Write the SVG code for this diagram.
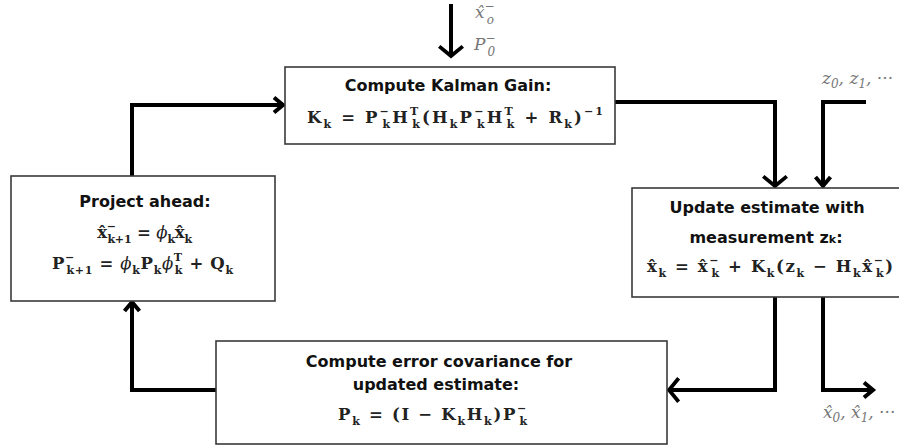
<svg xmlns="http://www.w3.org/2000/svg" width="899" height="446" viewBox="0 0 899 446">
  <defs>
    <style>
      .box { fill: #ffffff; stroke: #3a3a3a; stroke-width: 1.6; }
      .wire { fill: none; stroke: #000; stroke-width: 4; stroke-linejoin: miter; }
      .head { font-family: "DejaVu Sans", "Liberation Sans", sans-serif; font-weight: bold; font-size: 16px; fill: #111; text-anchor: middle; }
      .m { font-family: "DejaVu Serif", "Liberation Serif", serif; font-weight: bold; font-size: 16.5px; fill: #222; }
      .u, .d { font-size: 11px; }
      .g { font-family: "DejaVu Serif", "Liberation Serif", serif; font-style: italic; font-size: 17px; fill: #777; }
      .gs { font-size: 12px; }
      .phi { font-weight: normal; font-style: italic; }
    </style>
    <marker id="arrow" markerUnits="userSpaceOnUse" markerWidth="24" markerHeight="24" refX="0" refY="0" viewBox="-14 -12 16 24" orient="auto" overflow="visible">
      <path d="M-9,-7.5 L0,0 L-9,7.5" fill="none" stroke="#000" stroke-width="4" stroke-linejoin="miter"/>
    </marker>
    <marker id="arrowWide" markerUnits="userSpaceOnUse" markerWidth="30" markerHeight="30" refX="0" refY="0" viewBox="-14 -14 16 28" orient="auto" overflow="visible">
      <path d="M-9,-11 L0,0 L-9,11" fill="none" stroke="#000" stroke-width="3.5" stroke-linejoin="miter"/>
    </marker>
  </defs>

  <rect width="899" height="446" fill="#ffffff"/>

  <!-- connectors -->
  <g id="connectors">
    <path class="wire" d="M451,4 V56" stroke-width="3.5" marker-end="url(#arrowWide)"/>
    <path class="wire" d="M132,177 V105 H283" marker-end="url(#arrow)"/>
    <path class="wire" d="M615,102 H775 V186" marker-end="url(#arrowWide)"/>
    <path class="wire" d="M866,102 H823 V186" marker-end="url(#arrow)"/>
    <path class="wire" d="M775,297 V390 H669" marker-end="url(#arrowWide)"/>
    <path class="wire" d="M823,297 V390 H873" marker-end="url(#arrow)"/>
    <path class="wire" d="M216,390 H132 V302" marker-end="url(#arrow)"/>
  </g>

  <!-- initial state -->
  <g id="init-label">
    <text class="g" x="475" y="18">x&#x0302;<tspan class="gs" dy="-8.5">−</tspan><tspan class="gs" dx="-8" dy="14">o</tspan></text>
    <text class="g" x="474" y="50">P<tspan class="gs" dy="-8.5">−</tspan><tspan class="gs" dx="-8" dy="14">0</tspan></text>
  </g>

  <!-- measurements -->
  <g id="meas-label">
    <text class="g" x="822" y="84">z<tspan class="gs" dy="4">0</tspan><tspan dy="-4">, z</tspan><tspan class="gs" dy="4">1</tspan><tspan dy="-4">, ···</tspan></text>
  </g>

  <!-- estimates out -->
  <g id="out-label">
    <text class="g" x="823" y="418">x&#x0302;<tspan class="gs" dy="4">0</tspan><tspan dy="-4">, x&#x0302;</tspan><tspan class="gs" dy="4">1</tspan><tspan dy="-4">, ···</tspan></text>
  </g>

  <!-- Kalman gain -->
  <g id="kalman-gain">
    <rect class="box" x="285" y="67" width="330" height="77"/>
    <text class="head" x="448" y="91">Compute Kalman Gain:</text>
    <text class="m" x="307" y="123" textLength="296" lengthAdjust="spacing">K<tspan class="d" dy="5">k</tspan><tspan dy="-5"> = P</tspan><tspan class="u" dy="-8">−</tspan><tspan class="d" dx="-8.5" dy="13">k</tspan><tspan dy="-5">H</tspan><tspan class="u" dy="-8">T</tspan><tspan class="d" dx="-8" dy="13">k</tspan><tspan dy="-5">(H</tspan><tspan class="d" dy="5">k</tspan><tspan dy="-5">P</tspan><tspan class="u" dy="-8">−</tspan><tspan class="d" dx="-8.5" dy="13">k</tspan><tspan dy="-5">H</tspan><tspan class="u" dy="-8">T</tspan><tspan class="d" dx="-8" dy="13">k</tspan><tspan dy="-5"> + R</tspan><tspan class="d" dy="5">k</tspan><tspan dy="-5">)</tspan><tspan class="u" dy="-8">−1</tspan></text>
  </g>

  <!-- Project ahead -->
  <g id="project-ahead">
    <rect class="box" x="11" y="176" width="264" height="125"/>
    <text class="head" x="145" y="207">Project ahead:</text>
    <text class="m" x="97" y="238" textLength="95" lengthAdjust="spacing">x&#x0302;<tspan class="u" dy="-8">−</tspan><tspan class="d" dx="-8.5" dy="13">k+1</tspan><tspan dy="-5"> = </tspan><tspan class="phi">ϕ</tspan><tspan class="d" dy="5">k</tspan><tspan dy="-5">x&#x0302;</tspan><tspan class="d" dy="5">k</tspan></text>
    <text class="m" x="52" y="269" textLength="181" lengthAdjust="spacing">P<tspan class="u" dy="-8">−</tspan><tspan class="d" dx="-8.5" dy="13">k+1</tspan><tspan dy="-5"> = </tspan><tspan class="phi">ϕ</tspan><tspan class="d" dy="5">k</tspan><tspan dy="-5">P</tspan><tspan class="d" dy="5">k</tspan><tspan class="phi" dy="-5">ϕ</tspan><tspan class="u" dy="-8">T</tspan><tspan class="d" dx="-8" dy="13">k</tspan><tspan dy="-5"> + Q</tspan><tspan class="d" dy="5">k</tspan></text>
  </g>

  <!-- Update estimate -->
  <g id="update-estimate">
    <rect class="box" x="632" y="188" width="272" height="109"/>
    <text class="head" x="767" y="213">Update estimate with</text>
    <text class="head" x="766" y="243">measurement z<tspan font-size="11">k</tspan>:</text>
    <text class="m" x="647" y="272" textLength="246" lengthAdjust="spacing">x&#x0302;<tspan class="d" dy="5">k</tspan><tspan dy="-5"> = x&#x0302;</tspan><tspan class="u" dy="-8">−</tspan><tspan class="d" dx="-8.5" dy="13">k</tspan><tspan dy="-5"> + K</tspan><tspan class="d" dy="5">k</tspan><tspan dy="-5">(z</tspan><tspan class="d" dy="5">k</tspan><tspan dy="-5"> − H</tspan><tspan class="d" dy="5">k</tspan><tspan dy="-5">x&#x0302;</tspan><tspan class="u" dy="-8">−</tspan><tspan class="d" dx="-8.5" dy="13">k</tspan><tspan dy="-5">)</tspan></text>
  </g>

  <!-- Error covariance -->
  <g id="error-covariance">
    <rect class="box" x="216" y="341" width="451" height="103"/>
    <text class="head" x="439" y="367">Compute error covariance for</text>
    <text class="head" x="436" y="390">updated estimate:</text>
    <text class="m" x="338" y="420" textLength="190" lengthAdjust="spacing">P<tspan class="d" dy="5">k</tspan><tspan dy="-5"> = (I − K</tspan><tspan class="d" dy="5">k</tspan><tspan dy="-5">H</tspan><tspan class="d" dy="5">k</tspan><tspan dy="-5">)P</tspan><tspan class="u" dy="-8">−</tspan><tspan class="d" dx="-8.5" dy="13">k</tspan></text>
  </g>
</svg>
